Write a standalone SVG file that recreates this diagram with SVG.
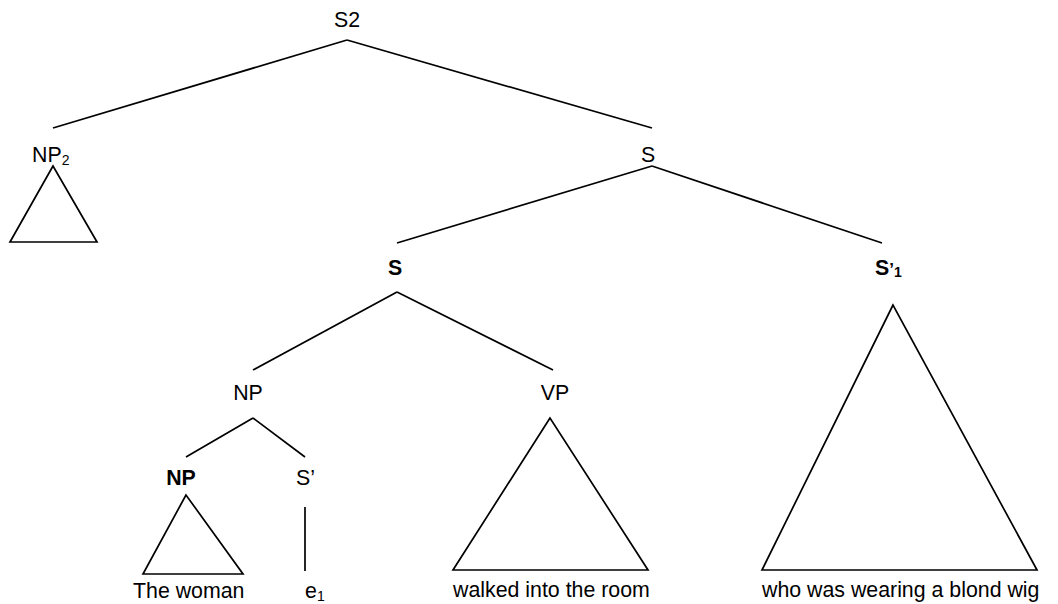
<svg xmlns="http://www.w3.org/2000/svg" width="1058" height="604" viewBox="0 0 1058 604">
<style>
text { font-family: "Liberation Sans", Arial, sans-serif; font-size: 21.33px; fill: #000; }
.b { font-weight: bold; }
.sub { font-size: 14px; }
.c { text-anchor: middle; }
line, polygon { stroke: #000; stroke-width: 1.7; fill: none; }
</style>
<rect width="1058" height="604" fill="#fff"/>
<g id="connectors">
<line x1="347" y1="40" x2="53" y2="128"/>
<line x1="347" y1="40" x2="652" y2="128"/>
<line x1="652" y1="166" x2="397" y2="243"/>
<line x1="652" y1="166" x2="882" y2="243"/>
<line x1="397" y1="292" x2="253" y2="370"/>
<line x1="397" y1="292" x2="553" y2="370"/>
<line x1="253" y1="418" x2="186" y2="457"/>
<line x1="253" y1="418" x2="305" y2="457"/>
<line x1="305" y1="507" x2="305" y2="571"/>
</g>
<g id="S2"><text class="c" x="347" y="27">S2</text></g>
<g id="NP2"><text x="32" y="162">NP<tspan class="sub" dy="3">2</tspan></text>
<polygon points="53,166 10,242 97,242"/></g>
<g id="S"><text class="c" x="648" y="162">S</text></g>
<g id="S-bold"><text class="c b" x="395" y="275">S</text></g>
<g id="S1prime"><text class="b" x="875" y="275">S<tspan style="font-size:17px">’</tspan><tspan class="sub" dy="2">1</tspan></text>
<polygon points="893,305 762,570 1037,570"/>
<text x="762" y="597">who was wearing a blond wig</text></g>
<g id="NP"><text class="c" x="248" y="400">NP</text></g>
<g id="VP"><text class="c" x="555" y="400">VP</text>
<polygon points="550,418 453,570 648,570"/>
<text x="453" y="597">walked into the room</text></g>
<g id="NP-bold"><text class="c b" x="181" y="485">NP</text>
<polygon points="186,495 143,574 243,574"/>
<text x="133" y="598">The woman</text></g>
<g id="Sprime"><text x="296" y="485">S’</text>
<text x="305" y="598">e<tspan class="sub" dy="3">1</tspan></text></g>
</svg>
